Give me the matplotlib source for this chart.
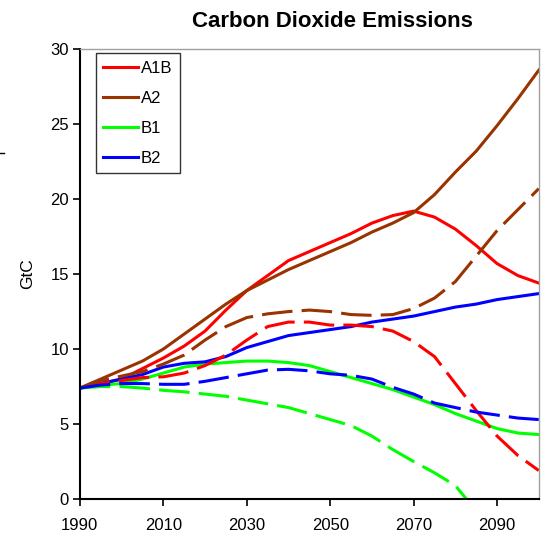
import numpy as np
import matplotlib

matplotlib.use('Agg')
import matplotlib.pyplot as plt
from matplotlib.lines import Line2D

# values (GtC), every 5 years
years = np.arange(1990, 2101, 5)

a1b = [7.4, 7.7, 8.0, 8.7, 9.4, 10.2, 11.2, 12.6, 13.9, 14.9, 15.9, 16.5,
       17.1, 17.7, 18.4, 18.9, 19.2, 18.8, 18.0, 16.9, 15.7, 14.9, 14.4]
a2 = [7.4, 8.0, 8.6, 9.2, 10.0, 11.0, 12.0, 13.0, 13.9, 14.6, 15.3, 15.9,
      16.5, 17.1, 17.8, 18.4, 19.1, 20.3, 21.8, 23.2, 24.9, 26.7, 28.6]
b1 = [7.4, 7.6, 7.7, 8.0, 8.4, 8.8, 9.0, 9.1, 9.2, 9.2, 9.1, 8.9,
      8.5, 8.1, 7.7, 7.3, 6.8, 6.3, 5.7, 5.2, 4.7, 4.4, 4.3]
b2 = [7.4, 7.7, 8.0, 8.3, 8.8, 9.05, 9.15, 9.5, 10.1, 10.5, 10.9, 11.1,
      11.3, 11.5, 11.8, 12.0, 12.2, 12.5, 12.8, 13.0, 13.3, 13.5, 13.7]

# dashed variants
a1b_d = [7.4, 7.7, 7.9, 8.1, 8.15, 8.4, 8.9, 9.6, 10.6, 11.5, 11.8, 11.8,
         11.6, 11.6, 11.5, 11.2, 10.5, 9.5, 7.7, 5.9, 4.2, 2.9, 1.9]
a2_d = [7.4, 7.9, 8.2, 8.5, 9.0, 9.6, 10.6, 11.5, 12.1, 12.35, 12.5, 12.6,
        12.5, 12.3, 12.25, 12.3, 12.7, 13.4, 14.5, 16.2, 17.9, 19.3, 20.7]
b1_d = [7.4, 7.5, 7.5, 7.4, 7.25, 7.15, 7.0, 6.85, 6.6, 6.35, 6.1, 5.7,
        5.3, 4.9, 4.2, 3.3, 2.5, 1.75, 0.9, -0.8, -2.5, -4.0, -5.0]
b2_d = [7.4, 7.6, 7.7, 7.7, 7.65, 7.65, 7.85, 8.1, 8.35, 8.6, 8.65, 8.55,
        8.35, 8.25, 8.0, 7.45, 7.0, 6.4, 6.1, 5.8, 5.6, 5.4, 5.3]

labels = ['A1B', 'A2', 'B1', 'B2']
colors = ['#FF0000', '#993300', '#00FF00', '#0000FF']
xticks = [1990, 2010, 2030, 2050, 2070, 2090]
yticks = [0, 5, 10, 15, 20, 25, 30]

plt.rcParams['font.family'] = ['Liberation Sans', 'DejaVu Sans']

fig = plt.figure(figsize=(5.47, 5.46), dpi=100)
ax = fig.add_axes([0.146, 0.086, 0.839, 0.824])

lw = 2.2
for series, lab, col in zip([a1b, a2, b1, b2], labels, colors):
    ax.plot(years, series, color=col, lw=lw, label=lab)
for series, col in zip([a1b_d, a2_d, b1_d, b2_d], colors):
    ax.plot(years, series, color=col, lw=lw, dashes=(10, 3))

ax.set_xlim(1990, 2100)
ax.set_ylim(0, 30)
ax.set_xticks(xticks)
ax.set_yticks(yticks)
ax.tick_params(direction='out', length=5, width=1.2, labelsize=12)
ax.tick_params(axis='x', pad=9)
ax.tick_params(axis='y', pad=3)

for side in ['left', 'bottom']:
    ax.spines[side].set_color('black')
    ax.spines[side].set_linewidth(1.5)
for side in ['top', 'right']:
    ax.spines[side].set_color('#A0A0A0')
    ax.spines[side].set_linewidth(1.0)

ax.set_ylabel('GtC', fontsize=12.5, labelpad=11)

leg = ax.legend(loc='upper left', bbox_to_anchor=(0.035, 0.991), fontsize=12,
                frameon=True, fancybox=False, handlelength=2.1,
                handletextpad=0.15, labelspacing=0.9, borderpad=0.45,
                borderaxespad=0)
leg.get_frame().set_edgecolor('black')
leg.get_frame().set_linewidth(1.0)

fig.text(0.607, 0.96, 'Carbon Dioxide Emissions', ha='center', va='center',
         fontsize=16, fontweight='bold')

# stray tick at the left edge of the original image
fig.add_artist(Line2D([0.0, 0.008], [0.72, 0.72], color='black', lw=1))

fig.savefig('out.png', dpi=100)
